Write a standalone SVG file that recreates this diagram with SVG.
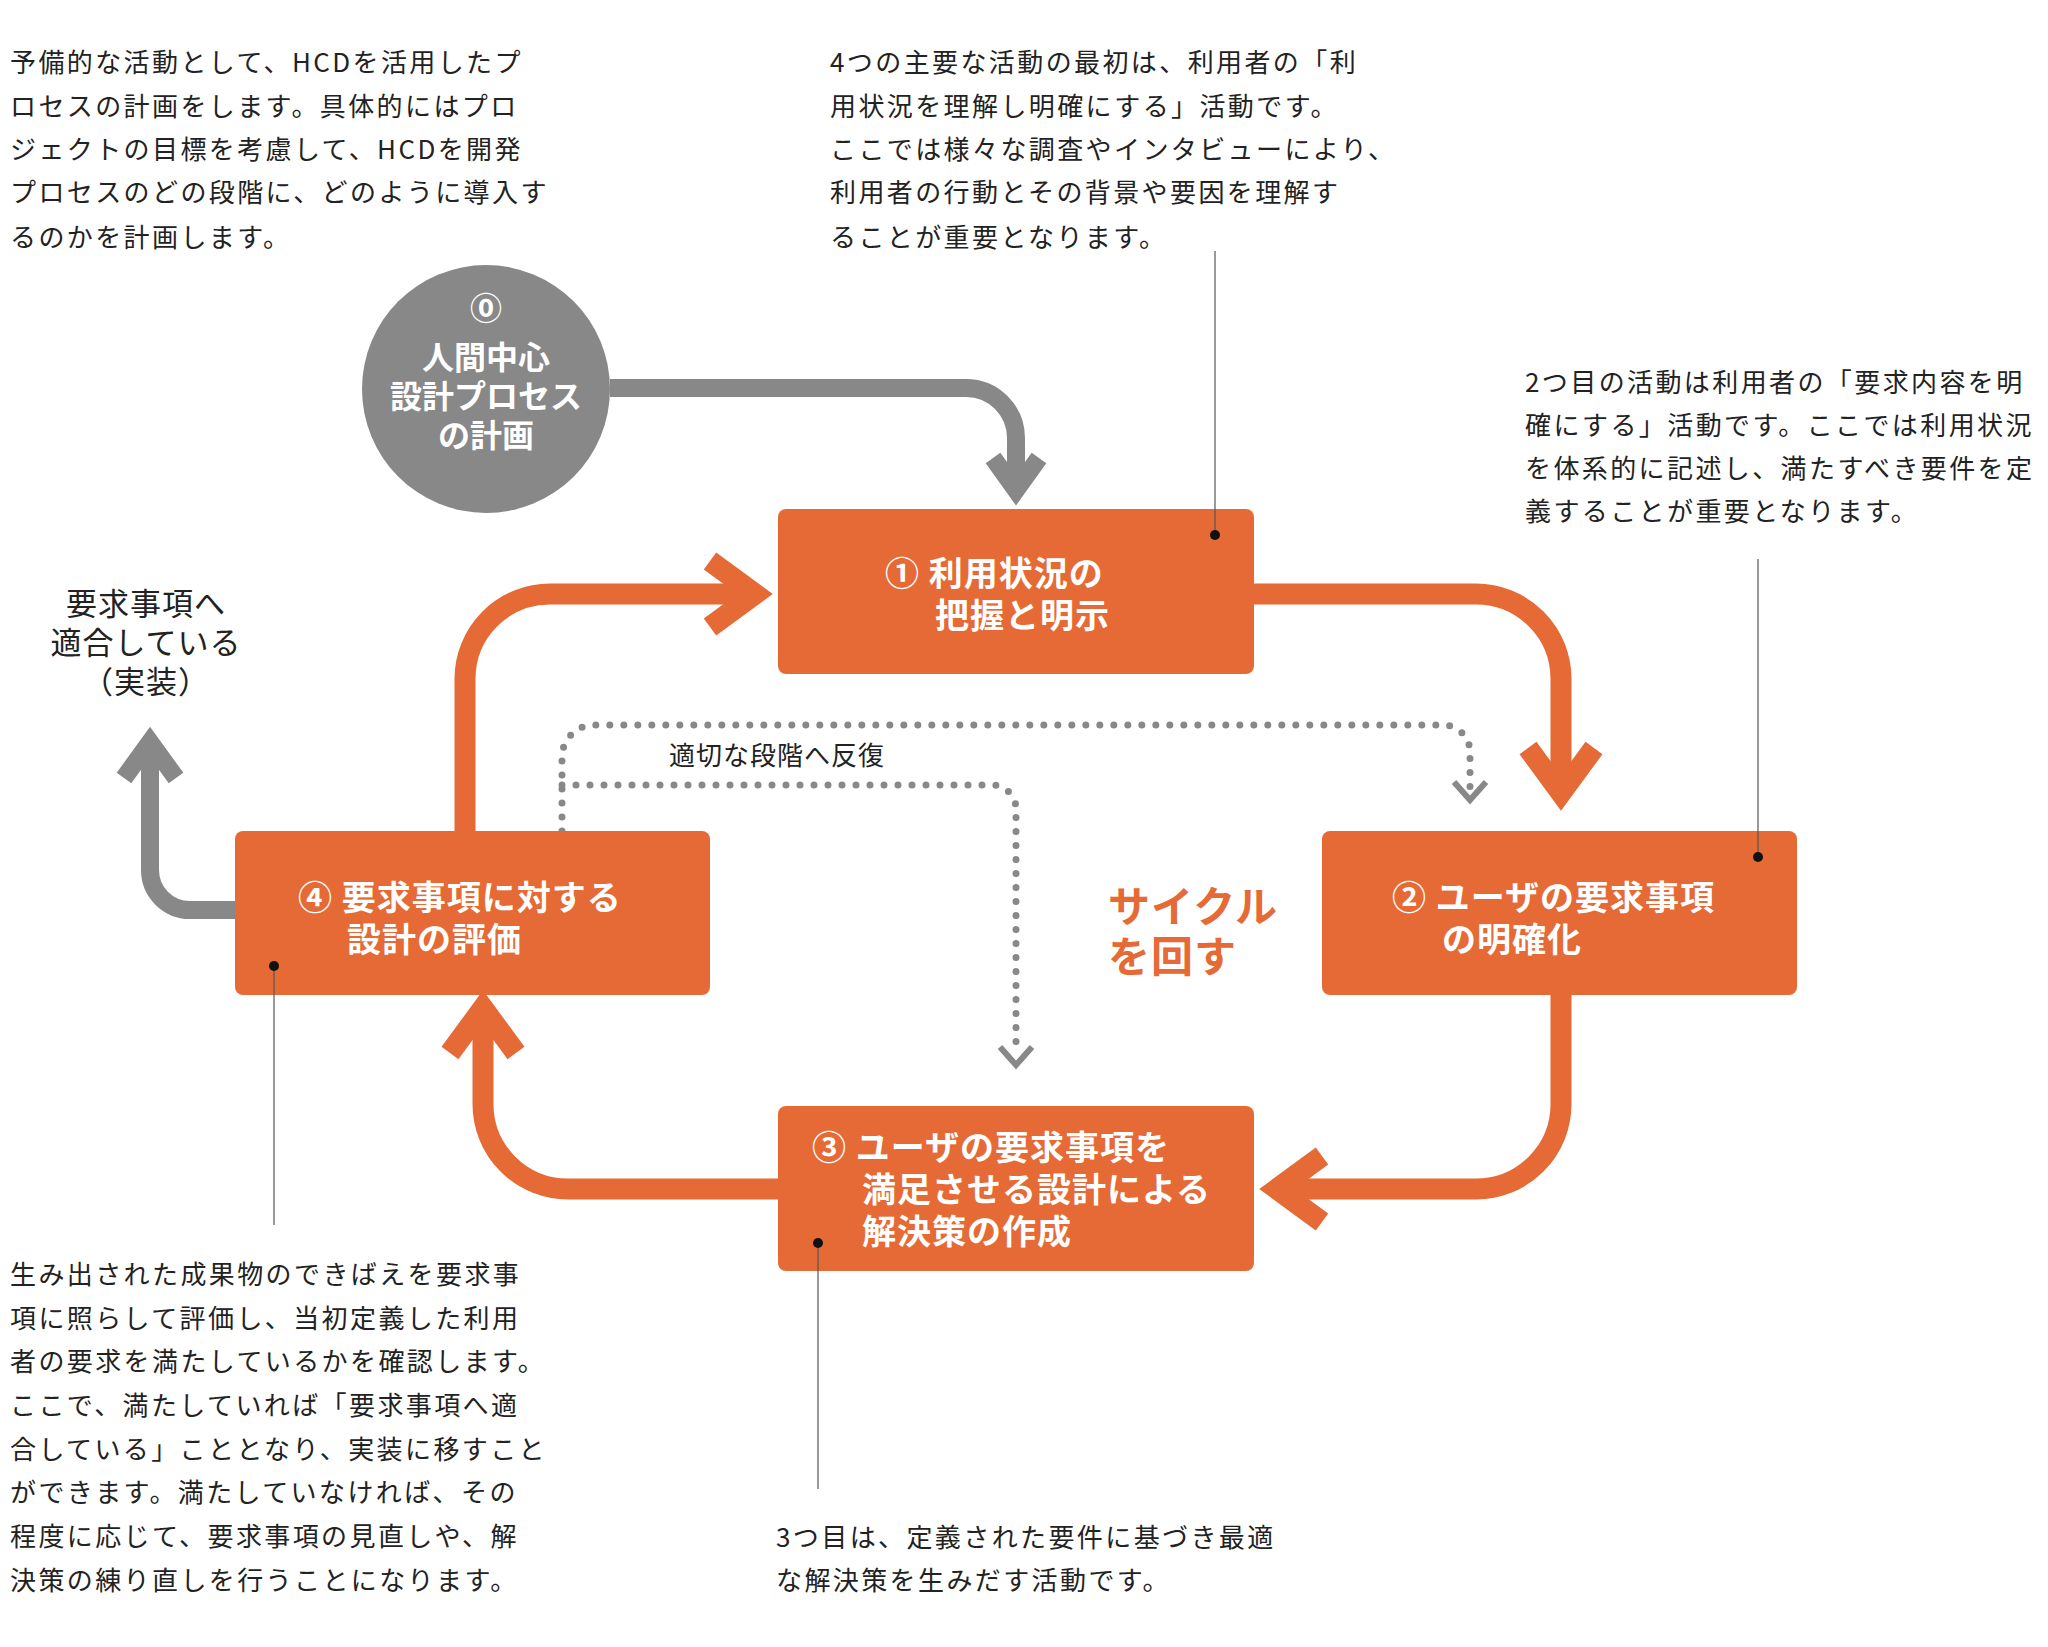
<svg xmlns="http://www.w3.org/2000/svg" width="2048" height="1647" viewBox="0 0 2048 1647">
<style>
.t{font-family:"Noto Sans CJK JP","Noto Sans",sans-serif;font-size:26px;fill:#222;letter-spacing:2.4px}
.b{font-family:"Noto Sans CJK JP","Noto Sans",sans-serif;font-size:34px;font-weight:bold;fill:#fff;letter-spacing:1px}
.c{font-size:32px;letter-spacing:0}
.box{fill:#E56A35}
.o{fill:none;stroke:#E56A35;stroke-width:21}
.g{fill:none;stroke:#888;stroke-width:18}
.d{fill:none;stroke:#888;stroke-width:7;stroke-dasharray:0 14;stroke-linecap:round}
.ch{fill:none;stroke:#888;stroke-width:6}
.l{stroke:#555;stroke-width:1.2}
</style>
<rect width="2048" height="1647" fill="#fff"/>
<g id="connectors">
<path class="o" d="M1254,594 H1476 A85,85 0 0 1 1561,679 V792"/>
<path class="o" d="M1528,748 L1561,793 L1594,748"/>
<path class="o" d="M1561,995 V1104 A85,85 0 0 1 1476,1189 H1280"/>
<path class="o" d="M1322,1156 L1277,1189 L1322,1222"/>
<path class="o" d="M778,1189 H568 A85,85 0 0 1 483,1104 V1010"/>
<path class="o" d="M450,1053 L483,1008 L516,1053"/>
<path class="o" d="M465,831 V679 A85,85 0 0 1 550,594 H752"/>
<path class="o" d="M710,561 L755,594 L710,627"/>
<path class="g" d="M610,388 H966 A50,50 0 0 1 1016,438 V490"/>
<path class="g" d="M993,458 L1016,490 L1039,458"/>
<path class="g" d="M235,910 H190 A40,40 0 0 1 150,870 V745"/>
<path class="g" d="M124,778 L150,742 L176,778"/>
<path class="d" d="M562,831 V757 A32,32 0 0 1 594,725 H1443 A27,27 0 0 1 1470,752 V790"/>
<path class="ch" d="M1454,782 L1470,800 L1486,782"/>
<path class="d" d="M562,785 H992 A24,24 0 0 1 1016,809 V1050"/>
<path class="ch" d="M1000,1047 L1016,1065 L1032,1047"/>
</g>
<g id="n0"><circle cx="486" cy="389" r="124" fill="#888"/>
<text class="b c" text-anchor="middle" x="486" y="320">⓪</text>
<text class="b c" text-anchor="middle" x="486" y="369">人間中心</text>
<text class="b c" text-anchor="middle" x="486" y="408">設計プロセス</text>
<text class="b c" text-anchor="middle" x="486" y="447">の計画</text></g>
<g id="n1"><rect class="box" x="778" y="509" width="476" height="165" rx="8"/>
<text class="b" x="885" y="586">① 利用状況の</text><text class="b" x="935" y="628">把握と明示</text></g>
<g id="n2"><rect class="box" x="1322" y="831" width="475" height="164" rx="8"/>
<text class="b" x="1392" y="910">② ユーザの要求事項</text><text class="b" x="1442" y="952">の明確化</text></g>
<g id="n3"><rect class="box" x="778" y="1106" width="476" height="165" rx="8"/>
<text class="b" x="812" y="1160">③ ユーザの要求事項を</text><text class="b" x="862" y="1202">満足させる設計による</text><text class="b" x="862" y="1244">解決策の作成</text></g>
<g id="n4"><rect class="box" x="235" y="831" width="475" height="164" rx="8"/>
<text class="b" x="298" y="910">④ 要求事項に対する</text><text class="b" x="347" y="952">設計の評価</text></g>
<g id="leaders">
<line class="l" x1="1215" y1="535" x2="1215" y2="251"/><circle cx="1215" cy="535" r="5" fill="#111"/>
<line class="l" x1="1758" y1="857" x2="1758" y2="559"/><circle cx="1758" cy="857" r="5" fill="#111"/>
<line class="l" x1="274" y1="966" x2="274" y2="1225"/><circle cx="274" cy="966" r="5" fill="#111"/>
<line class="l" x1="818" y1="1243" x2="818" y2="1489"/><circle cx="818" cy="1243" r="5" fill="#111"/>
</g>
<g id="labels">
<text class="t" style="letter-spacing:1px" x="669" y="765">適切な段階へ反復</text>
<text class="b" style="fill:#E56A35;font-size:42px" x="1108" y="922">サイクル</text>
<text class="b" style="fill:#E56A35;font-size:42px" x="1108" y="972">を回す</text>
<g class="t" style="font-size:31px;letter-spacing:1px" text-anchor="middle"><text x="146" y="615">要求事項へ</text><text x="146" y="654">適合している</text><text x="146" y="693">（実装）</text></g>
<g class="t"><text x="10" y="72">予備的な活動として、HCDを活用したプ</text><text x="10" y="116">ロセスの計画をします。具体的にはプロ</text><text x="10" y="159">ジェクトの目標を考慮して、HCDを開発</text><text x="10" y="202">プロセスのどの段階に、どのように導入す</text><text x="10" y="247">るのかを計画します。</text></g>
<g class="t"><text x="830" y="72">4つの主要な活動の最初は、利用者の「利</text><text x="830" y="116">用状況を理解し明確にする」活動です。</text><text x="830" y="159">ここでは様々な調査やインタビューにより、</text><text x="830" y="202">利用者の行動とその背景や要因を理解す</text><text x="830" y="247">ることが重要となります。</text></g>
<g class="t"><text x="1525" y="392">2つ目の活動は利用者の「要求内容を明</text><text x="1525" y="435">確にする」活動です。ここでは利用状況</text><text x="1525" y="478">を体系的に記述し、満たすべき要件を定</text><text x="1525" y="521">義することが重要となります。</text></g>
<g class="t"><text x="10" y="1284">生み出された成果物のできばえを要求事</text><text x="10" y="1328">項に照らして評価し、当初定義した利用</text><text x="10" y="1371">者の要求を満たしているかを確認します。</text><text x="10" y="1415">ここで、満たしていれば「要求事項へ適</text><text x="10" y="1459">合している」こととなり、実装に移すこと</text><text x="10" y="1502">ができます。満たしていなければ、その</text><text x="10" y="1546">程度に応じて、要求事項の見直しや、解</text><text x="10" y="1590">決策の練り直しを行うことになります。</text></g>
<g class="t"><text x="776" y="1547">3つ目は、定義された要件に基づき最適</text><text x="776" y="1590">な解決策を生みだす活動です。</text></g>
</g>
</svg>
